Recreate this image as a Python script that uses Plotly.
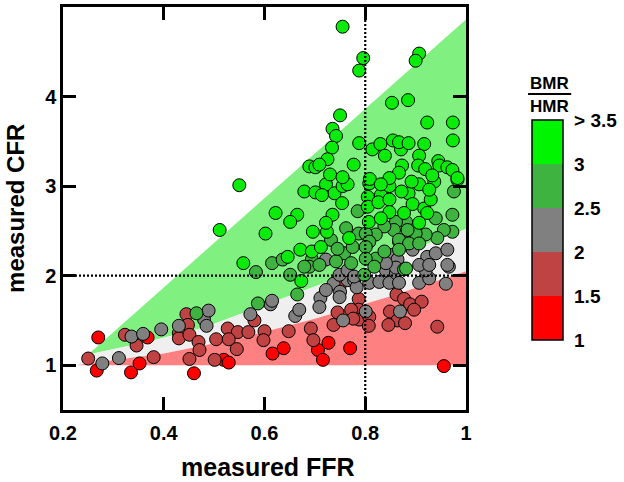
import plotly.graph_objects as go

# ---------------- data ----------------
# BMR/HMR category: > 3 (bright green)
ffr_g = [0.558,0.646,0.671,0.694,0.673,0.511,0.550,0.602,0.622,0.665,0.651,0.696,0.724,
         0.689,0.701,0.679,0.701,
         0.722,0.739,0.755,0.765,0.714,0.754,0.735,0.722,0.712,0.768,0.805,0.808,0.805,0.807,
         0.831,0.826,0.848,0.848,0.848,0.831,0.886,0.894,0.907,0.917,0.930,0.923,0.907,0.937,0.983,
         0.750,0.735,0.742,0.734,0.725,0.730,0.709,0.755,0.777,0.788,0.814,0.830,0.839,0.855,
         0.871,0.867,0.886,0.853,0.885,0.923,0.974,0.974,0.917,0.907,0.873,0.867,0.905,0.919,
         0.945,0.947,0.963,0.973,0.983,0.933,0.848,0.809,
         0.755,0.796,0.788,0.907,0.900,
         0.892,0.831,0.872,0.927,0.877]
cfr_g = [2.14,2.21,2.29,2.27,1.94,2.51,3.01,2.47,2.70,2.68,2.60,2.49,2.49,
         3.22,3.21,2.94,2.93,
         3.02,2.92,3.00,3.02,2.90,2.81,2.68,2.59,2.32,2.42,2.88,3.03,2.77,2.60,
         2.90,2.82,2.85,3.00,2.71,2.64,2.92,2.80,3.02,2.75,2.85,2.70,2.59,3.05,3.07,
         3.79,3.64,3.56,3.43,3.30,3.13,3.24,3.10,3.24,3.48,3.41,3.47,3.34,3.51,
         3.41,3.49,3.48,3.93,3.96,3.71,3.71,3.51,3.47,3.34,3.23,3.15,3.23,3.19,
         3.28,3.23,3.21,3.18,3.09,3.12,3.09,3.08,
         4.78,4.43,4.29,4.48,4.40,
         3.05,3.02,2.94,2.96,2.70]

# 2.5 - 3 (mid green)
ffr_mg = [0.465,0.587,0.665,0.651,0.583,0.615,0.636,0.694,0.689,0.709,0.679,0.798,0.877,
          0.976,0.973,0.973,0.956,0.940,0.943,0.920,0.900,0.881,0.861,0.884,0.857,0.838,0.821,
          0.867,0.887,0.907,0.785,0.787,0.801,0.808,0.762,0.758,0.775,0.742,0.772,0.801,0.821,
          0.838,0.867,0.801,0.881,0.732,0.745,0.818]
cfr_mg = [1.58,1.69,1.79,2.01,2.04,2.14,2.18,2.18,2.10,2.12,2.10,2.01,2.07,
          2.94,2.68,2.49,2.51,2.64,2.42,2.46,2.47,2.60,2.60,2.51,2.51,2.55,2.46,
          2.40,2.36,2.36,2.72,2.47,2.47,2.38,2.53,2.25,2.32,2.16,2.14,2.32,2.19,
          2.27,2.29,2.19,2.08,2.40,2.30,2.10]

# 2 - 2.5 (gray)
ffr_gr = [0.278,0.336,0.359,0.311,0.395,0.430,0.480,0.485,0.489,
          0.572,0.612,0.615,0.661,0.669,0.711,0.709,
          0.737,0.722,0.750,0.749,0.765,0.778,0.783,0.808,0.828,0.848,0.841,0.861,0.867,
          0.907,0.927,0.920,0.960,0.966,0.801,0.756,0.869,
          0.867,0.851,0.864,0.894,0.884,0.923,0.940,0.963,0.907,0.927,0.861,0.841,0.722,0.963,
          0.749,0.765,0.778]
cfr_gr = [1.02,1.32,1.35,1.08,1.40,1.44,1.51,1.44,1.61,
          1.57,1.68,1.72,1.55,1.62,1.75,1.65,
          1.91,1.84,1.82,1.76,1.95,1.95,1.87,1.92,1.93,1.92,2.06,2.03,1.92,
          1.92,1.97,2.06,1.91,2.10,1.60,1.50,1.60,
          2.38,2.23,2.18,2.29,2.40,2.21,2.25,2.29,2.12,2.12,2.09,2.14,2.18,2.12,
          2.01,2.06,1.99]

# 1.5 - 2 (dark red)
ffr_dr = [0.250,0.323,0.346,0.380,0.445,0.448,0.430,0.430,0.451,0.469,0.471,0.451,
          0.527,0.547,0.568,0.504,0.529,0.545,0.501,0.600,0.598,0.580,0.648,0.692,0.697,
          0.749,0.787,0.787,0.788,0.808,0.807,0.772,0.745,0.737,0.776,
          0.862,0.877,0.889,0.912,0.897,0.849,0.864,0.846,0.879,0.943]
cfr_dr = [1.075,1.34,1.22,1.09,1.57,1.45,1.36,1.30,1.34,1.26,1.17,1.07,
          1.41,1.37,1.37,1.29,1.29,1.18,1.06,1.38,1.28,1.50,1.38,1.41,1.28,
          1.88,1.74,1.62,1.51,1.54,1.44,1.62,1.59,1.45,1.52,
          1.79,1.74,1.68,1.71,1.62,1.60,1.50,1.45,1.47,1.43]

# 1 - 1.5 (red)
ffr_r = [0.270,0.267,0.368,0.335,0.352,0.460,0.519,0.529,0.616,0.638,0.706,0.716,0.727,0.770,0.956]
cfr_r = [1.31,0.94,1.31,0.92,1.02,0.91,1.06,1.03,1.13,1.19,1.17,1.06,1.25,1.19,0.99]

# shaded model bands (FFR, CFR)
green_up_x = [0.25, 1.0]
green_up_y = [1.12, 4.86]
green_lo_x = [0.25, 0.36, 0.48, 0.72, 1.0]
green_lo_y = [1.12, 1.25, 1.42, 1.92, 2.52]
red_up_x = [0.228, 0.25, 0.40, 0.55, 0.70, 0.85, 1.0]
red_up_y = [1.00, 1.02, 1.13, 1.30, 1.52, 1.77, 2.05]
apex_x, apex_y = 0.228, 1.0

ffr_cut = 0.8
cfr_cut = 2.0

cb_vals = [1, 1.5, 2, 2.5, 3, 3.5]
cb_text = ["1", "1.5", "2", "2.5", "3", "> 3.5"]

C_G = "#0aeb0a"
C_MG = "#3fb33f"
C_GR = "#808080"
C_DR = "#c04343"
C_R = "#ff0000"

FONT = "Liberation Sans, Arial, sans-serif"

fig = go.Figure()

# green band
fig.add_trace(go.Scatter(
    x=green_up_x + green_lo_x[::-1], y=green_up_y + green_lo_y[::-1],
    fill="toself", fillcolor="#80f080", line=dict(width=0), mode="lines",
    hoverinfo="skip", showlegend=False))
# white/grey band
fig.add_trace(go.Scatter(
    x=[apex_x] + green_lo_x + red_up_x[::-1], y=[apex_y] + green_lo_y + red_up_y[::-1],
    fill="toself", fillcolor="#efefef", line=dict(width=0), mode="lines",
    hoverinfo="skip", showlegend=False))
# red band
fig.add_trace(go.Scatter(
    x=red_up_x + [1.0, apex_x], y=red_up_y + [1.0, apex_y],
    fill="toself", fillcolor="#ff8080", line=dict(width=0), mode="lines",
    hoverinfo="skip", showlegend=False))

for xs, ys, col in [(ffr_r, cfr_r, C_R), (ffr_dr, cfr_dr, C_DR), (ffr_gr, cfr_gr, C_GR),
                    (ffr_mg, cfr_mg, C_MG), (ffr_g, cfr_g, C_G)]:
    fig.add_trace(go.Scatter(
        x=xs, y=ys, mode="markers",
        marker=dict(size=13, color=col, line=dict(color="black", width=1)),
        showlegend=False))

# dotted reference lines
fig.add_trace(go.Scatter(x=[ffr_cut, ffr_cut], y=[0.5, 5.0], mode="lines",
                         line=dict(color="black", width=2.2, dash="2px,2px"), showlegend=False))
fig.add_trace(go.Scatter(x=[0.2, 1.0], y=[cfr_cut, cfr_cut], mode="lines",
                         line=dict(color="black", width=2.2, dash="2px,2px"), showlegend=False))

# colorbar
cs = [[0, C_R], [0.2, C_R], [0.2, C_DR], [0.4, C_DR], [0.4, C_GR], [0.6, C_GR],
      [0.6, C_MG], [0.8, C_MG], [0.8, "#00f500"], [1, "#00f500"]]
fig.add_trace(go.Scatter(
    x=[None], y=[None], mode="markers", showlegend=False, hoverinfo="skip",
    marker=dict(color=[1], cmin=1, cmax=3.5, colorscale=cs, showscale=True,
                colorbar=dict(x=1.164, xanchor="left", y=0.4467, yanchor="middle",
                              len=220, lenmode="pixels", thickness=31, thicknessmode="pixels",
                              outlinewidth=1.5, outlinecolor="black",
                              tickvals=cb_vals, ticktext=cb_text,
                              ticks="outside", ticklen=7, tickcolor="rgba(0,0,0,0)",
                              tickfont=dict(family=FONT, size=19, color="black", weight="bold"),
                              xpad=0, ypad=0))))

axis_common = dict(showline=True, linewidth=2.5, linecolor="black", mirror="ticks",
                   ticks="inside", ticklen=13, tickwidth=2.5, tickcolor="black",
                   showgrid=False, zeroline=False,
                   tickfont=dict(family=FONT, size=20, color="black", weight="bold"))

fig.update_xaxes(range=[0.2, 1.0], tickvals=[0.2, 0.4, 0.6, 0.8, 1.0],
                 ticktext=["0.2", "0.4", "0.6", "0.8", "1"], ticklabelstandoff=3,
                 **axis_common)
fig.update_yaxes(range=[0.5, 5.0], tickvals=[1, 2, 3, 4],
                 ticktext=["1", "2", "3", "4"], **axis_common)

fig.update_layout(
    width=624, height=482,
    margin=dict(l=63, r=158, t=7, b=72, autoexpand=False),
    paper_bgcolor="white", plot_bgcolor="white",
    annotations=[
        dict(text="measured FFR", xref="paper", yref="paper", x=0.508, y=-0.182,
             xanchor="center", yanchor="bottom", showarrow=False,
             font=dict(family=FONT, size=25, color="black", weight="bold")),
        dict(text="measured CFR", xref="paper", yref="paper", x=-0.118, y=0.5,
             xanchor="center", yanchor="middle", showarrow=False, textangle=-90,
             font=dict(family=FONT, size=24, color="black", weight="bold")),
        dict(text="BMR", xref="paper", yref="paper", x=1.207, y=0.809,
             xanchor="center", yanchor="middle", showarrow=False,
             font=dict(family=FONT, size=17, color="black", weight="bold")),
        dict(text="HMR", xref="paper", yref="paper", x=1.207, y=0.754,
             xanchor="center", yanchor="middle", showarrow=False,
             font=dict(family=FONT, size=17, color="black", weight="bold")),
    ],
    shapes=[dict(type="line", xref="paper", yref="paper", x0=1.154, x1=1.261,
                 y0=0.784, y1=0.784, line=dict(color="black", width=2))],
)

fig.write_html("out.html", config={"displayModeBar": False},
               post_script="document.body.style.margin='0';document.body.style.padding='0';")
